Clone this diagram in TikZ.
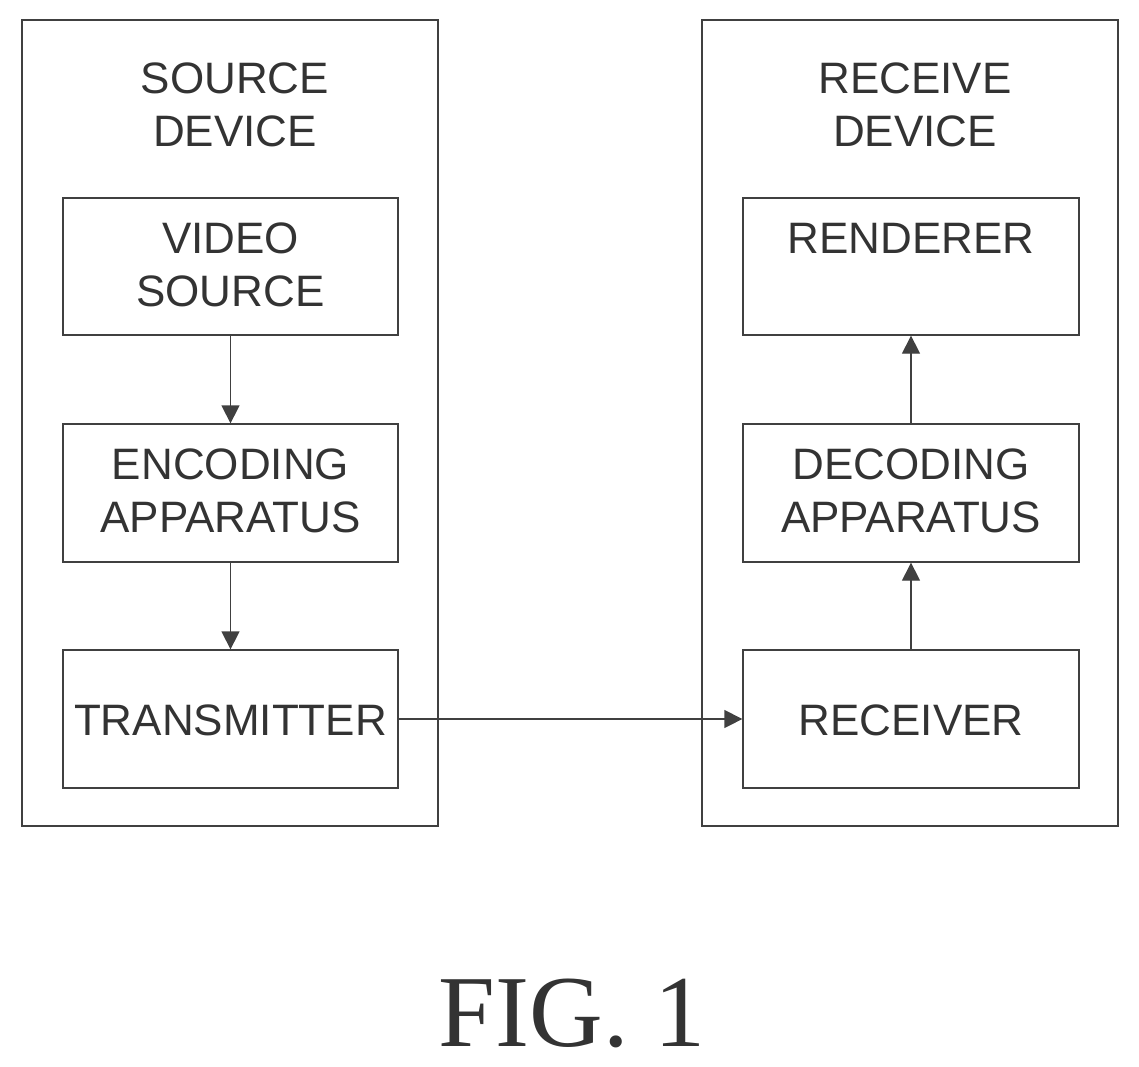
\documentclass[tikz,border=0pt]{standalone}
\usepackage{fontspec}
\setmainfont{Liberation Sans}
\newfontfamily\figfont{Liberation Serif}
\usetikzlibrary{arrows.meta}
\begin{document}
\begin{tikzpicture}[x=1pt,y=-1pt,
  box/.style={draw=black!75,line width=1.3pt},
  lbl/.style={font=\fontsize{44}{53}\selectfont,text=black!80,align=center},
  arr/.style={draw=black!75,line width=1.3pt,-{Triangle[length=18pt,width=18pt]}}]
\useasboundingbox (0,0) rectangle (1139,1066);
\draw[box] (22,20) rectangle (438,826);
\draw[box] (702,20) rectangle (1118,826);
\node[box,minimum width=335pt,minimum height=137pt] (vs) at (230.5,266.5) {};
\node[box,minimum width=335pt,minimum height=138pt] (enc) at (230.5,493) {};
\node[box,minimum width=335pt,minimum height=138pt] (tx) at (230.5,719) {};
\node[box,minimum width=336pt,minimum height=137pt] (ren) at (911,266.5) {};
\node[box,minimum width=336pt,minimum height=138pt] (dec) at (911,493) {};
\node[box,minimum width=336pt,minimum height=138pt] (rx) at (911,719) {};
\node[lbl] (t1) at (235,105) {SOURCE\\DEVICE};
\node[lbl] (t2) at (915,105) {RECEIVE\\DEVICE};
\node[lbl] (l1) at (230.5,265) {VIDEO\\SOURCE};
\node[lbl] (l2) at (230.5,491) {ENCODING\\APPARATUS};
\node[lbl] (l3) at (230.5,720) {TRANSMITTER};
\node[lbl] (l4) at (911,238) {RENDERER};
\node[lbl] (l5) at (911,491) {DECODING\\APPARATUS};
\node[lbl] (l6) at (911,720) {RECEIVER};
\draw[arr] (vs) -- (enc);
\draw[arr] (enc) -- (tx);
\draw[arr] (rx) -- (dec);
\draw[arr] (dec) -- (ren);
\draw[arr] (tx) -- (rx);
\node[font=\figfont\fontsize{102}{110}\selectfont,text=black!80] (fig) at (572,1013) {FIG. 1};
\end{tikzpicture}
\end{document}
